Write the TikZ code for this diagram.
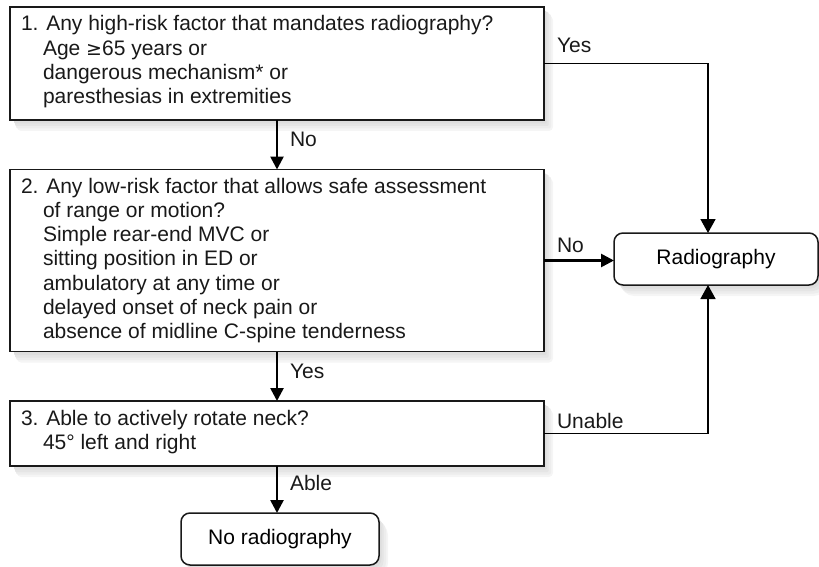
\documentclass[tikz,border=0pt]{standalone}
\usepackage{fontspec}
\setmainfont{Liberation Sans}
\newfontfamily\symfont{DejaVu Sans}
\usetikzlibrary{arrows.meta}
\begin{document}
\begin{tikzpicture}[x=1pt,y=-1pt,
  every node/.style={font=\fontsize{21}{24.3}\selectfont, inner sep=0pt, outer sep=0pt},
  qbox/.style={draw=black!90, line width=1.5pt, fill=white, rectangle, minimum width=534pt},
  endbox/.style={draw=black!90, line width=1.5pt, fill=white, rectangle, rounded corners=9pt, minimum height=52pt},
  qtext/.style={anchor=north west, align=left, text=black!90},
  lbl/.style={anchor=base west, text=black!90},
  thickarr/.style={line width=2.6pt, -{Triangle[length=13pt,width=13pt]}},
  thinarr/.style={line width=1.6pt, -{Triangle[length=14pt,width=15pt]}}
]
\useasboundingbox (0,0) rectangle (819,567);

% soft shadows, drawn first (box extents: x1/y1/x2/y2/radius)
\foreach \xa/\ya/\xb/\yb/\r in {10/7/544/120/0, 10/169.5/544/351.5/0, 10/401/544/466/0, 614/233/818/285/9, 181/513/379/565/9}{
  \fill[black!4, rounded corners=4+\r] (\xa+7,\ya+9) rectangle (\xb+9,\yb+11);
  \fill[black!7, rounded corners=2+\r] (\xa+6,\ya+7) rectangle (\xb+7,\yb+8.5);
  \fill[black!10, rounded corners=1+\r] (\xa+5,\ya+5) rectangle (\xb+4.5,\yb+6);
  \fill[black!13, rounded corners=1+\r] (\xa+4,\ya+4) rectangle (\xb+2.5,\yb+3.5);
}

\node[qbox, minimum height=113pt] (q1) at (277,63.5) {};
\node[qbox, minimum height=182pt] (q2) at (277,260.5) {};
\node[qbox, minimum height=65pt] (q3) at (277,433.5) {};
\node[endbox, minimum width=204pt] (rad) at (716,259) {Radiography};
\node[endbox, minimum width=198pt] (nr) at (280,539) {No radiography};

% north = first baseline - 17.01 (strut height)
\node[qtext] (t1) at (21,13.7) {\strut 1. Any high-risk factor that mandates radiography?\\
\hspace*{22pt}Age {\symfont\fontsize{19}{24.3}\selectfont ≥}65 years or\\
\hspace*{22pt}dangerous mechanism* or\\
\hspace*{22pt}paresthesias in extremities};
\node[qtext] (t2) at (21,176) {\strut 2. Any low-risk factor that allows safe assessment\\
\hspace*{22pt}of range or motion?\\
\hspace*{22pt}Simple rear-end MVC or\\
\hspace*{22pt}sitting position in ED or\\
\hspace*{22pt}ambulatory at any time or\\
\hspace*{22pt}delayed onset of neck pain or\\
\hspace*{22pt}absence of midline C-spine tenderness};
\node[qtext] (t3) at (21,408.5) {\strut 3. Able to actively rotate neck?\\
\hspace*{22pt}45° left and right};

\coordinate (ax) at (708,0);

\draw[thickarr] (q1.south) -- (q2.north);
\draw[thickarr] (q2.south) -- (q3.north);
\draw[thickarr] (q3.south) -- (q3.south |- nr.north);
\draw[thickarr] (q2.east) -- (q2.east -| rad.west);
\draw[thinarr] (q1.east) -| (ax |- rad.north);
\draw[thinarr] (q3.east) -| (ax |- rad.south);

\node[lbl] (l1) at (290,146.5) {No};
\node[lbl] (l2) at (290,378) {Yes};
\node[lbl] (l3) at (290,490) {Able};
\node[lbl] (l4) at (557,52.7) {Yes};
\node[lbl] (l5) at (557,252) {No};
\node[lbl] (l6) at (557,428.5) {Unable};
\end{tikzpicture}
\end{document}
